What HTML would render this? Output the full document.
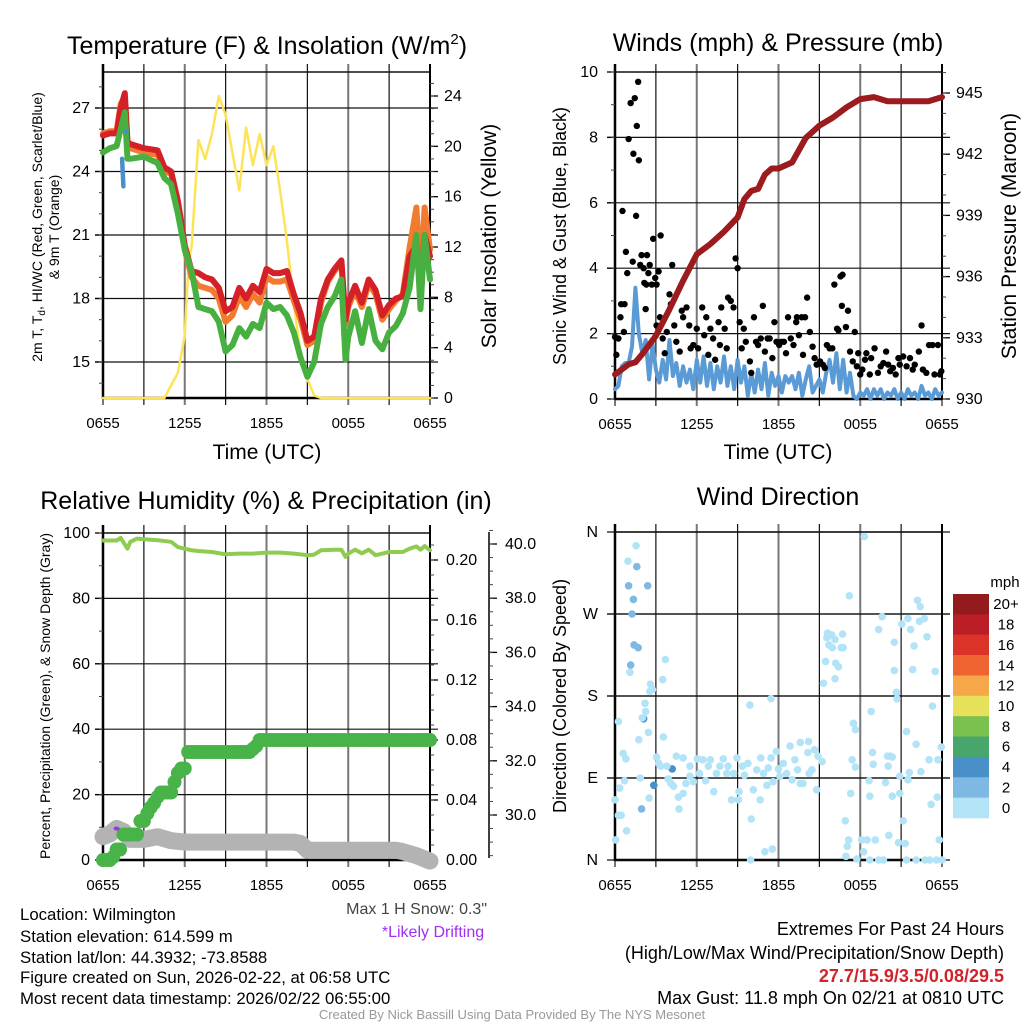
<!DOCTYPE html>
<html><head><meta charset="utf-8"><style>
html,body{margin:0;padding:0;background:#fff;}
svg{display:block;font-family:"Liberation Sans",sans-serif;}
</style></head><body>
<svg id="chart" width="1024" height="1024" viewBox="0 0 1024 1024" xmlns="http://www.w3.org/2000/svg">
<rect width="1024" height="1024" fill="#fff"/>
<text x="267" y="54" font-size="25" text-anchor="middle">Temperature (F) &amp; Insolation (W/m<tspan font-size="15" dy="-10">2</tspan><tspan dy="10">)</tspan></text>
<text x="778" y="51" font-size="25" text-anchor="middle">Winds (mph) &amp; Pressure (mb)</text>
<text x="266" y="509" font-size="25" text-anchor="middle">Relative Humidity (%) &amp; Precipitation (in)</text>
<text x="778" y="505" font-size="25" text-anchor="middle">Wind Direction</text>
<text x="267" y="459" font-size="21" text-anchor="middle">Time (UTC)</text>
<text x="778" y="459" font-size="21" text-anchor="middle">Time (UTC)</text>
<text transform="translate(42,227) rotate(-90)" font-size="14" text-anchor="middle">2m T, T<tspan font-size="10" dy="3">d</tspan><tspan dy="-3">, HI/WC (Red, Green, Scarlet/Blue)</tspan></text>
<text transform="translate(59,227) rotate(-90)" font-size="14" text-anchor="middle">&amp; 9m T (Orange)</text>
<text transform="translate(496,236) rotate(-90)" font-size="21" text-anchor="middle">Solar Insolation (Yellow)</text>
<text transform="translate(566,236) rotate(-90)" font-size="18" text-anchor="middle">Sonic Wind &amp; Gust (Blue, Black)</text>
<text transform="translate(1016,236) rotate(-90)" font-size="21" text-anchor="middle">Station Pressure (Maroon)</text>
<text transform="translate(50,696) rotate(-90)" font-size="14" text-anchor="middle">Percent, Precipitation (Green), &amp; Snow Depth (Gray)</text>
<text transform="translate(566,696) rotate(-90)" font-size="18" text-anchor="middle">Direction (Colored By Speed)</text>
<text x="487" y="914" font-size="16" text-anchor="end" fill="#444">Max 1 H Snow: 0.3"</text>
<text x="433" y="937" font-size="16" text-anchor="middle" fill="#a030f0">*Likely Drifting</text>
<g font-size="16.8">
<text x="20" y="920">Location: Wilmington</text>
<text x="20" y="942">Station elevation: 614.599 m</text>
<text x="20" y="963">Station lat/lon: 44.3932; -73.8588</text>
<text x="20" y="983">Figure created on Sun, 2026-02-22, at 06:58 UTC</text>
<text x="20" y="1004">Most recent data timestamp: 2026/02/22 06:55:00</text>
</g>
<g font-size="18" text-anchor="end">
<text x="1004" y="935">Extremes For Past 24 Hours</text>
<text x="1004" y="959">(High/Low/Max Wind/Precipitation/Snow Depth)</text>
<text x="1004" y="982" fill="#d2232a" font-weight="bold">27.7/15.9/3.5/0.08/29.5</text>
<text x="1004" y="1004">Max Gust: 11.8 mph On 02/21 at 0810 UTC</text>
</g>
<text x="512" y="1019" font-size="13" text-anchor="middle" fill="#999">Created By Nick Bassill Using Data Provided By The NYS Mesonet</text>
</svg>
<script>
// ===== Temperature panel data =====
const tempTimes = [0,0.5,1,1.3,1.6,1.8,2,3,4,4.5,5,5.5,6,6.5,7,7.5,8,8.5,9,9.5,10,10.5,11,11.5,12,12.5,13,13.5,14,14.5,15,15.5,16,16.5,17,17.5,17.8,18,18.5,19,19.5,20,20.5,21,21.5,22,22.5,23,23.3,23.6,24];
const tempRed = [25.7,25.8,25.8,27.0,27.7,25.4,25.3,25.1,25.0,24.2,24.0,22.6,20.5,19.3,19.2,19.0,18.9,18.5,17.4,17.6,18.5,18.0,18.6,18.3,19.4,19.2,19.2,19.3,18.2,17.3,16.0,16.2,18.0,18.9,19.4,19.8,17.0,17.8,18.6,17.8,18.9,18.4,17.2,17.7,18.0,18.1,20.0,20.5,18.4,21.0,20.0];
const tempOrange = [25.8,25.9,25.9,27.2,27.5,25.2,25.1,24.9,24.8,24.0,23.9,22.5,20.3,19.0,18.6,18.5,18.4,18.0,16.9,17.2,18.1,17.6,18.2,17.8,19.0,18.8,18.8,18.9,17.9,17.0,15.8,16.0,17.8,18.8,19.3,19.7,16.8,17.6,18.4,17.6,18.7,18.2,17.0,17.5,17.9,18.2,20.4,22.3,18.8,22.3,20.3];
const tempGreen = [24.9,25.1,25.2,26.0,26.8,24.6,24.6,24.7,24.4,23.7,23.4,22.0,20.3,19.3,17.6,17.5,17.4,16.9,15.5,15.8,16.6,16.2,16.8,16.6,17.8,17.5,17.6,17.2,16.4,15.2,14.3,15.0,16.8,17.6,18.1,18.9,15.1,16.2,17.4,15.9,17.5,16.0,15.6,16.4,16.7,17.3,18.5,21.0,17.5,21.0,18.9];
const wcTimes = [1.4,1.45,1.5];
const wcBlue = [24.6,23.9,23.3];
const solarTimes = [0,4.5,5,5.5,6,6.3,6.5,7,7.5,8,8.5,9,9.5,10,10.5,11,11.5,12,12.5,13,13.5,14,14.5,15,15.5,16,24];
const solarValues = [0,0,1,2,5,11,12,20.5,19,21,24,22.5,19.5,16.5,21.5,18.5,21,18.5,20,16.5,12.5,7.5,3.5,1.5,0.2,0,0];
const tempTicks = [15,18,21,24,27];
const solarTicks = [0,4,8,12,16,20,24];
const timeTickLabels = ["0655","1255","1855","0055","0655"];
// ===== Wind panel data =====
const pressTimes = [0,1,1.5,2,3,4,5,6,7,8,9,9.5,10,10.5,11,11.5,12,13,14,14.5,15,16,17,18,19,20,21,22,23,24];
const pressValues = [931.2,931.7,931.8,932.2,933.1,934.4,935.8,937.1,937.6,938.2,938.9,939.8,940.2,940.3,941.0,941.3,941.3,941.6,942.8,943.1,943.4,943.8,944.3,944.7,944.8,944.6,944.6,944.6,944.6,944.8];
const sonicValues = [0.3,0.4,1.0,1.1,1.1,1.6,3.4,2.0,1.4,1.8,0.6,1.7,0.9,0.5,1.2,0.6,1.8,0.7,1.1,0.4,1.0,0.5,0.9,0.3,1.2,0.5,1.3,0.4,1.1,0.3,1.0,0.5,1.3,0.4,1.0,0.3,1.2,0.5,1.0,0.1,0.8,0.2,0.9,0.3,1.1,0.1,0.8,0.4,0.7,0.2,0.7,0.5,0.7,0.3,0.8,0.1,0.6,1.0,0.2,0.4,0.6,0.2,0.8,1.2,0.5,1.4,0.3,1.2,0.2,0.8,0.1,0.0,0.2,0.1,0.3,0.0,0.3,0.1,0.3,0.0,0.2,0.1,0.3,0.0,0.2,0.0,0.3,0.1,0.2,0.0,0.4,0.1,0.2,0.0,0.3,0.1,0.2];
const gustTimes = [0,0.1,0.25,0.4,0.45,0.7,0.55,0.65,0.8,0.9,1.0,1.15,1.3,1.35,1.45,1.55,1.6,1.7,1.75,1.85,1.95,2.1,2.15,2.25,2.3,2.35,2.45,2.55,2.7,2.8,2.95,3.05,3.05,3.2,3.3,3.35,3.5,3.65,3.8,4.0,4.1,4.2,4.35,4.5,4.75,4.9,5.0,5.25,5.45,5.55,5.75,6.0,6.1,6.4,6.55,6.7,6.85,7.0,7.2,7.35,7.6,7.7,7.8,8.05,8.2,8.3,8.5,8.7,8.85,9.0,9.15,9.3,9.45,9.6,9.9,10.0,10.2,10.35,10.5,10.7,10.85,11.0,11.2,11.35,11.55,11.7,11.85,12.05,12.2,12.4,12.55,12.7,12.9,13.1,13.3,13.35,13.5,13.7,13.8,13.95,14.1,14.3,14.5,14.65,14.8,15.05,15.25,15.4,15.55,15.75,15.95,16.1,16.3,16.4,16.55,16.7,16.65,16.95,17.1,17.25,17.45,17.6,17.75,17.85,18.0,18.15,18.35,18.45,18.7,18.8,19.05,19.3,19.5,19.7,19.9,20.05,20.2,20.4,20.6,20.8,20.9,21.15,21.4,21.65,21.85,22.0,22.3,22.5,22.6,22.85,23.05,23.3,23.45,23.7,23.85,23.95];
const gustValues = [1.9,1.35,1.85,2.5,2.9,2.9,5.75,2.05,4.5,3.85,7.95,9.05,4.2,7.5,9.2,5.6,8.35,9.7,7.3,4.1,4.4,4.0,3.55,2.75,3.5,4.4,3.85,4.1,3.5,4.9,3.7,3.5,2.25,3.9,2.5,5.0,1.85,1.4,2.05,3.2,2.9,4.1,2.25,1.75,1.45,2.7,2.5,2.8,2.25,1.55,1.65,2.15,1.55,2.8,1.95,2.5,1.35,2.15,1.85,1.2,2.35,1.65,2.8,2.15,1.55,3.1,3.0,2.8,4.3,4.0,2.35,1.55,2.15,1.75,1.15,0.8,2.5,1.75,1.65,1.85,2.85,1.45,1.85,1.85,1.25,2.35,1.75,1.65,1.75,1.75,1.4,2.5,1.85,1.65,2.35,2.5,1.95,2.5,1.35,2.5,3.1,2.05,1.6,1.25,1.05,1.15,1.05,0.95,1.65,1.55,1.55,3.5,2.15,2.1,3.75,3.8,2.85,2.2,2.7,1.45,1.15,2.05,1.0,1.4,0.75,0.9,1.2,1.4,0.75,1.25,1.55,0.8,1.0,1.1,1.45,1.05,0.85,0.95,0.75,1.25,1.05,1.3,1.0,1.25,0.9,1.05,1.45,2.25,0.9,0.8,1.65,1.65,0.75,1.65,0.75,0.85];
const windTicks = [0,2,4,6,8,10];
const pressTicks = [930,933,936,939,942,945];
// ===== RH panel data =====
const rhTimes = [0,1,1.3,1.8,2,2.5,3,4,5,5.5,6,6.5,7,8,9,10,11,12,13,14,15,15.5,16,17,17.5,17.8,18,18.5,19,19.5,20,21,22,22.5,23,23.3,23.6,24];
const rhValues = [97.7,97.7,98.5,95.2,97.3,98.3,98.1,97.8,97.3,95.7,95.2,94.7,94.5,94.2,93.5,93.7,93.7,94.0,94.0,93.7,93.2,93.4,94.7,94.9,94.9,92.7,93.7,94.9,93.8,94.9,93.2,94.2,94.2,95.2,95.9,94.9,96.0,94.7];
const precipValues = [0,0,0,0.002,0.007,0.007,0.017,0.017,0.017,0.017,0.017,0.026,0.026,0.031,0.035,0.038,0.042,0.045,0.045,0.045,0.045,0.052,0.058,0.061,0.061,0.072,0.072,0.072,0.072,0.072,0.072,0.072,0.072,0.072,0.072,0.072,0.072,0.072,0.072,0.072,0.072,0.072,0.072,0.072,0.074,0.076,0.08,0.08,0.08,0.08,0.08,0.08,0.08,0.08,0.08,0.08,0.08,0.08,0.08,0.08,0.08,0.08,0.08,0.08,0.08,0.08,0.08,0.08,0.08,0.08,0.08,0.08,0.08,0.08,0.08,0.08,0.08,0.08,0.08,0.08,0.08,0.08,0.08,0.08,0.08,0.08,0.08,0.08,0.08,0.08,0.08,0.08,0.08,0.08,0.08,0.08,0.08];
const snowTimes = [0,0.5,1,1.5,2,3,4,5,6,8,10,12,14,14.5,15,15.5,17,19,21.5,22,23,24];
const snowValues = [29.2,29.3,29.5,29.4,29.1,29.1,29.2,29.05,29.0,29.0,29.0,29.0,29.0,28.95,28.7,28.7,28.7,28.7,28.7,28.65,28.5,28.3];
const rhTicks = [0,20,40,60,80,100];
const precipTicks = [0,0.04,0.08,0.12,0.16,0.20];
const snowTicks = [30,32,34,36,38,40];
// ===== Direction panel data =====
const dirTimes = [1.0,1.6,2.4,1.35,1.25,1.4,1.7,1.15,2.1,4.2,2.85,1.95,1.55,0.95,1.1,2.6,2.75,2.55,2.2,2.25,2.0,2.45,1.75,0.25,0.6,0.8,0.7,0.35,0,0.25,0.45,0.85,0.05,1.85,2.5,3.7,3.5,3.55,3.05,3.2,3.35,3.8,3.9,4.1,4.3,4.65,5.0,4.7,4.5,5.0,5.2,5.5,5.5,5.75,6.05,6.2,6.45,6.65,6.85,7.0,7.25,7.45,7.7,7.95,8.2,8.3,8.55,8.7,8.95,9.05,9.1,9.35,9.5,9.75,9.9,10.0,10.15,10.4,10.65,10.7,10.9,11.15,11.25,11.45,11.55,11.0,9.95,11.45,11.6,11.85,12.0,12.1,12.35,12.6,12.85,13.0,13.2,13.4,13.6,13.6,13.8,14.15,14.2,14.25,14.45,14.65,14.8,14.9,15.2,15.3,15.45,15.6,15.55,15.7,15.9,15.95,16.15,16.2,16.4,16.15,16.6,16.75,16.7,17.2,18.3,17.5,17.65,17.4,17.65,17.3,16.9,17.15,17.05,16.95,17.75,18.1,18.5,18.25,18.7,19.1,19.35,19.7,20.1,20.8,21.3,21.4,22.1,22.75,23.1,23.6,23.8,24.0,18.65,18.7,18.9,18.95,18.8,19.35,19.6,19.85,20.0,20.2,20.05,20.35,20.35,20.5,20.5,20.65,20.7,20.9,20.9,21.15,21.05,21.4,21.5,21.6,21.5,21.7,21.95,21.85,22.2,22.4,22.35,22.7,22.9,22.1,22.45,23.05,23.2,23.5,23.3,23.65,23.7,23.95];
const dirDegrees = [301,322,301,286,270,236,233,214,155,100,82,56,345,328,206,193,187,185,172,163,156,140,132,152,117,111,87,79,66,49,49,32,22,90,68,220,198,135,113,106,103,103,89,84,81,69,73,56,114,112,84,103,92,86,111,95,110,87,103,110,75,95,103,111,95,103,66,95,112,66,75,103,93,106,170,45,77,99,66,112,95,82,101,177,12,9,0,112,86,119,100,92,106,95,125,88,110,99,129,84,84,118,130,95,99,121,77,114,108,194,218,249,244,236,247,233,242,216,212,199,233,233,248,290,355,150,143,110,102,73,43,22,15,4,1,22,22,9,0,22,0,0,27,19,18,0,0,0,0,0,22,0,87,70,118,105,163,253,267,85,114,114,103,70,113,239,208,184,177,92,73,43,259,141,88,96,265,253,235,209,285,278,262,265,245,127,97,110,61,207,169,69,110,124];
const dirSpeeds = [3,3,3,3,3,3,3,3,4,4,4,3,1,1,1,1,1,1,1,1,1,1,1,1,1,1,1,1,1,1,1,1,1,1,1,1,1,1,1,1,1,1,1,1,1,1,1,1,1,1,1,1,1,1,1,1,1,1,1,1,1,1,1,1,1,1,1,1,1,1,1,1,1,1,1,1,1,1,1,1,1,1,1,1,1,1,1,1,1,1,1,1,1,1,1,1,1,1,1,1,1,1,1,1,1,1,1,1,1,1,1,1,1,1,1,1,1,1,1,1,1,1,1,1,1,1,1,1,1,1,1,1,1,1,1,1,1,1,1,1,1,1,1,1,1,1,1,1,1,1,1,1,1,1,1,1,1,1,1,1,1,1,1,1,1,1,1,1,1,1,1,1,1,1,1,1,1,1,1,1,1,1,1,1,1,1,1,1,1,1,1,1,1,1,1,1,1,1];
const dirTickLabels = ["N","E","S","W","N"];
const dirTicks = [0,90,180,270,360];
const legendLabels = ["20+","18","16","14","12","10","8","6","4","2","0"];
const legendColors = ["#931a1d","#bb1e26","#db3328","#ef6330","#f6a749","#e6e05a","#7bc14d","#48a56c","#4a90c8","#7db9e3","#b3e3f7"];

const NS = "http://www.w3.org/2000/svg";
const svg = document.getElementById('chart');
function mk(tag, attrs, parent) {
  const e = document.createElementNS(NS, tag);
  for (const k in attrs) e.setAttribute(k, attrs[k]);
  (parent || svg).appendChild(e);
  return e;
}
function speedColor(s) {
  if (s === undefined || isNaN(s)) s = 1;
  const idx = Math.min(10, Math.floor(s / 2));
  return legendColors[10 - idx];
}

const P1 = {x0:103, x1:430, y0:72, y1:398};
const P2 = {x0:615, x1:942, y0:72, y1:399};
const P3 = {x0:103, x1:430, y0:533, y1:860};
const P4 = {x0:615, x1:942, y0:532, y1:860};
function xScale(P) { return t => P.x0 + t * (P.x1 - P.x0) / 24; }
const x1s = xScale(P1), x2s = xScale(P2), x3s = xScale(P3), x4s = xScale(P4);
const yTemp = v => 108 + (27 - v) * (254 / 12);
const ySolar = v => 398 - v * (302 / 24);
const yWind = v => 399 - v * 32.7;
const yPress = p => 399 - (p - 930) * (306 / 15);
const yRH = v => 860 - v * 3.27;
const yPrecip = v => 860 - v * 1500;
const ySnow = v => 815 - (v - 30) * 27.1;
const yDir = d => 860 - d * (328 / 360);

function grid(P, xs, yVals, ys, name) {
  const g = mk('g', {});
  
  
  for (let h = 0; h <= 24; h += 3) {
    const x = xs(h);
    const major = h % 6 === 0;
    const ln = mk('line', {x1:x, x2:x, y1:P.y0 - 8, y2:P.y1 + 7, stroke: major ? '#777' : '#111', 'stroke-width': major ? 2 : 1.2}, g);
    
    
  }
  yVals.forEach(v => {
    const y = ys(v);
    const ln = mk('line', {x1:P.x0 - 8, x2:P.x1 + 8, y1:y, y2:y, stroke:'#111', 'stroke-width':1.2}, g);
    
    
  });
  const top = mk('line', {x1:P.x0, x2:P.x1, y1:P.y0, y2:P.y0, stroke:'#111', 'stroke-width':1.5}, g);
  
  
  const lax = mk('line', {x1:P.x0, x2:P.x0, y1:P.y0 - 8, y2:P.y1 + 1, stroke:'#000', 'stroke-width':2.5}, g);
  
  
  const bax = mk('line', {x1:P.x0, x2:P.x1, y1:P.y1, y2:P.y1, stroke:'#000', 'stroke-width':2.5}, g);
  
  
  const rax = mk('line', {x1:P.x1, x2:P.x1, y1:P.y0 - 8, y2:P.y1 + 1, stroke:'#000', 'stroke-width':2}, g);
  
  
  timeTickLabels.forEach((lab, i) => {
    const t = mk('text', {x: xs(i * 6), y: P.y1 + 30, 'font-size': 15, 'text-anchor':'middle'}, g);
    t.textContent = lab;
    
    
  });
}
function yAxisTicks(ticks, ys, x, side, fmt, name, minorStep, lo, hi, labelX) {
  const g = mk('g', {});
  
  
  const dir = side === 'left' ? -1 : 1;
  ticks.forEach(v => {
    const y = ys(v);
    const tk = mk('line', {x1:x, x2:x + dir * 8, y1:y, y2:y, stroke:'#000', 'stroke-width':1.3}, g);
    
    
    const tx = mk('text', {x: labelX, y: y + 5, 'font-size': 16, 'text-anchor': side === 'left' ? 'end' : 'start'}, g);
    tx.textContent = fmt(v);
    
    
  });
  if (minorStep) {
    for (let v = lo; v <= hi + 1e-9; v += minorStep) {
      const y = ys(v);
      const tk = mk('line', {x1:x, x2:x + dir * 4, y1:y, y2:y, stroke:'#444', 'stroke-width':1}, g);
      
      
    }
  }
}
function polyline(xsArr, ysArr, color, width, name, parent) {
  const pts = xsArr.map((x, i) => x.toFixed(1) + ',' + ysArr[i].toFixed(1)).join(' ');
  const p = mk('polyline', {points: pts, fill:'none', stroke: color, 'stroke-width': width, 'stroke-linejoin':'round', 'stroke-linecap':'round'}, parent);
  
  
  return p;
}

// ===== Panel 1 =====
grid(P1, x1s, tempTicks, yTemp, 'temp');
yAxisTicks(tempTicks, yTemp, P1.x0, 'left', v => String(v), 'temp-y-axis', 1, 14, 28, 90);
yAxisTicks(solarTicks, ySolar, P1.x1, 'right', v => String(v), 'solar-y-axis', 1, 0, 25, 444);
polyline(solarTimes.map(x1s), solarValues.map(ySolar), '#fde358', 2.5, 'solar-insolation-line');
polyline(tempTimes.map(x1s), tempOrange.map(yTemp), '#f27b2f', 6, 'temp-9m-orange-line');
polyline(tempTimes.map(x1s), tempRed.map(yTemp), '#d42027', 6, 'temp-2m-red-line');
polyline(tempTimes.map(x1s), tempGreen.map(yTemp), '#48b040', 6, 'dewpoint-green-line');
polyline(wcTimes.map(x1s), wcBlue.map(yTemp), '#4a90c8', 4.5, 'windchill-blue-line');
{
  const d = mk('circle', {cx: x1s(1.7), cy: yTemp(25.9), r: 2.5, fill: '#4a90c8'});
  
  
}

// ===== Panel 2 =====
grid(P2, x2s, windTicks.slice(1, 5), yWind, 'wind');
yAxisTicks(windTicks, yWind, P2.x0, 'left', v => String(v), 'wind-y-axis', 1, 0, 10, 598);
yAxisTicks(pressTicks, yPress, P2.x1, 'right', v => String(v), 'pressure-y-axis', 1, 930, 946, 956);
polyline(sonicValues.map((v, i) => x2s(i * 0.25)), sonicValues.map(yWind), '#5a9bd5', 4, 'sonic-wind-line');
{
  const g = mk('g', {});
  
  
  gustValues.forEach((v, i) => {
    const c = mk('circle', {cx: x2s(gustTimes[i]), cy: yWind(v), r: 3.2, fill: '#000'}, g);
    
    
  });
}
polyline(pressTimes.map(x2s), pressValues.map(yPress), '#9b1b1e', 6, 'pressure-line');

// ===== Panel 3 =====
grid(P3, x3s, rhTicks.slice(1, 5), yRH, 'rh');
yAxisTicks(rhTicks, yRH, P3.x0, 'left', v => String(v), 'rh-y-axis', 10, 0, 100, 90);
yAxisTicks(precipTicks, yPrecip, P3.x1, 'right', v => v.toFixed(2), 'precip-y-axis', 0.01, 0, 0.21, 446);
{
  const ax = mk('line', {x1:489, x2:489, y1:532, y2:858, stroke:'#000', 'stroke-width':1.5});
  
  
}
yAxisTicks(snowTicks, ySnow, 489, 'right', v => v.toFixed(1), 'snow-y-axis', 0.5, 28.5, 40.5, 505);
{
  const g = mk('g', {});
  
  
  polyline(snowTimes.map(x3s), snowValues.map(ySnow), '#b3b3b3', 17, 'snow-depth-line', g);
  const gp = mk('g', {});
  
  
  precipValues.forEach((v, i) => {
    const c = mk('circle', {cx: x3s(i * 0.25), cy: yPrecip(v), r: 7, fill: '#48b348'}, gp);
    
    
  });
  const pd = mk('ellipse', {cx: x3s(1.0), cy: ySnow(29.5), rx: 3, ry: 2, fill: '#a030f0'});
  
  
}
polyline(rhTimes.map(x3s), rhValues.map(yRH), '#8fcb4f', 4, 'rh-line');

// ===== Panel 4 =====
grid(P4, x4s, [90,180,270], yDir, 'direction');
{
  const g = mk('g', {});
  
  
  dirTicks.forEach((d, i) => {
    const y = yDir(d);
    const tk = mk('line', {x1:P4.x0 - 8, x2:P4.x1 + 8, y1:y, y2:y, stroke:'#111', 'stroke-width':1.2}, g);
    
    
    const tx = mk('text', {x: 598, y: y + 5, 'font-size': 16, 'text-anchor':'end'}, g);
    tx.textContent = dirTickLabels[i];
    
    
  });
}
{
  const g = mk('g', {});
  
  
  dirDegrees.forEach((d, i) => {
    const c = mk('circle', {cx: x4s(dirTimes[i]), cy: yDir(d), r: 3.8, fill: speedColor(dirSpeeds[i])}, g);
    
    
  });
}
{
  const g = mk('g', {});
  
  
  const t = mk('text', {x: 1005, y: 587, 'font-size': 15, 'text-anchor':'middle'}, g);
  t.textContent = 'mph';
  
  
  const bh = (818 - 594) / legendColors.length;
  legendColors.forEach((c, i) => {
    const r = mk('rect', {x: 953, y: 594 + i * bh, width: 36, height: bh + 0.3, fill: c}, g);
    
    
    const l = mk('text', {x: 1006, y: 594 + i * bh + bh / 2 + 5, 'font-size': 15, 'text-anchor':'middle'}, g);
    l.textContent = legendLabels[i];
    
    
  });
}
</script>
</body></html>
